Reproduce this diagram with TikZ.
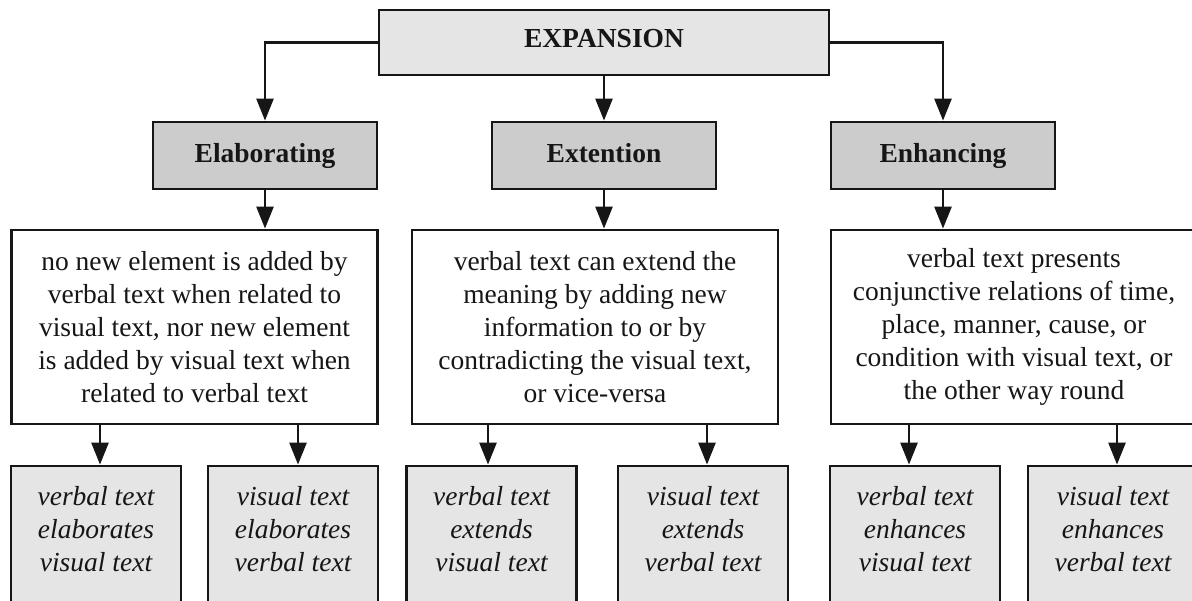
\documentclass[tikz,border=0pt]{standalone}
\usepackage{fontspec}
\setmainfont{Liberation Serif}
\usetikzlibrary{arrows.meta}
\definecolor{lightfill}{RGB}{229,229,229}
\definecolor{midfill}{RGB}{204,204,204}
\definecolor{ink}{RGB}{22,22,22}
\begin{document}
\begin{tikzpicture}[x=1pt,y=-1pt,
  boxbase/.style={draw=ink, line width=2.8pt, inner sep=0pt, text=ink,
    font=\fontsize{27.5}{33}\selectfont},
  topbox/.style={boxbase, fill=lightfill, minimum width=450pt, minimum height=65pt,
    text height=18pt, text depth=7pt,
    font=\fontsize{27.5}{33}\selectfont\bfseries},
  headbox/.style={boxbase, fill=midfill, minimum width=224pt, minimum height=67pt,
    text height=20pt, text depth=5pt,
    font=\fontsize{27.5}{33}\selectfont\bfseries},
  descbox/.style={boxbase, fill=white, minimum width=366pt, minimum height=194pt, align=center},
  leafbox/.style={boxbase, fill=lightfill, minimum width=170pt, minimum height=160pt},
  leaftext/.style={align=center, inner sep=0pt, text=ink,
    font=\fontsize{27.5}{33}\selectfont\itshape},
  arr/.style={draw=ink, line width=2.6pt, -{Triangle[width=17pt,length=22pt]}}
]
\useasboundingbox[fill=white] (0,0) rectangle (1192,601);

% top
\node[topbox] (exp) at (604,42.5) {EXPANSION};

% headings
\node[headbox] (elab) at (265,155.5) {Elaborating};
\node[headbox] (ext)  at (604,155.5) {Extention};
\node[headbox] (enh)  at (943,155.5) {Enhancing};

% descriptions
\node[descbox] (d1) at (194.5,327) {no new element is added by\\verbal text when related to\\visual text, nor new element\\is added by visual text when\\related to verbal text};
\node[descbox] (d2) at (595,327) {verbal text can extend the\\meaning by adding new\\information to or by\\contradicting the visual text,\\or vice-versa};
\node[descbox] (d3) at (1014,327) {verbal text presents\\conjunctive relations of time,\\place, manner, cause, or\\condition with visual text, or\\the other way round};

% leaves
\node[leafbox] (b1) at (96,546) {};
\node[leafbox] (b2) at (293,546) {};
\node[leafbox] (b3) at (491.5,546) {};
\node[leafbox] (b4) at (703,546) {};
\node[leafbox] (b5) at (915,546) {};
\node[leafbox] (b6) at (1113,546) {};

\node[leaftext, anchor=north] (t1) at ([yshift=-22pt]b1.north) {verbal text\\elaborates\\visual text};
\node[leaftext, anchor=north] (t2) at ([yshift=-22pt]b2.north) {visual text\\elaborates\\verbal text};
\node[leaftext, anchor=north] (t3) at ([yshift=-22pt]b3.north) {verbal text\\extends\\visual text};
\node[leaftext, anchor=north] (t4) at ([yshift=-22pt]b4.north) {visual text\\extends\\verbal text};
\node[leaftext, anchor=north] (t5) at ([yshift=-22pt]b5.north) {verbal text\\enhances\\visual text};
\node[leaftext, anchor=north] (t6) at ([yshift=-22pt]b6.north) {visual text\\enhances\\verbal text};

% connectors
\draw[arr] (exp.west) -| (elab.north);
\draw[arr] (exp.south) -- (ext.north);
\draw[arr] (exp.east) -| (enh.north);

\draw[arr] (elab.south) -- (elab.south |- d1.north);
\draw[arr] (ext.south) -- (ext.south |- d2.north);
\draw[arr] (enh.south) -- (enh.south |- d3.north);

\draw[arr] ([xshift=4pt]b1.north |- d1.south) -- ([xshift=4pt]b1.north);
\draw[arr] ([xshift=5pt]b2.north |- d1.south) -- ([xshift=5pt]b2.north);
\draw[arr] ([xshift=-3.5pt]b3.north |- d2.south) -- ([xshift=-3.5pt]b3.north);
\draw[arr] ([xshift=4pt]b4.north |- d2.south) -- ([xshift=4pt]b4.north);
\draw[arr] ([xshift=-6pt]b5.north |- d3.south) -- ([xshift=-6pt]b5.north);
\draw[arr] ([xshift=4pt]b6.north |- d3.south) -- ([xshift=4pt]b6.north);
\end{tikzpicture}
\end{document}
